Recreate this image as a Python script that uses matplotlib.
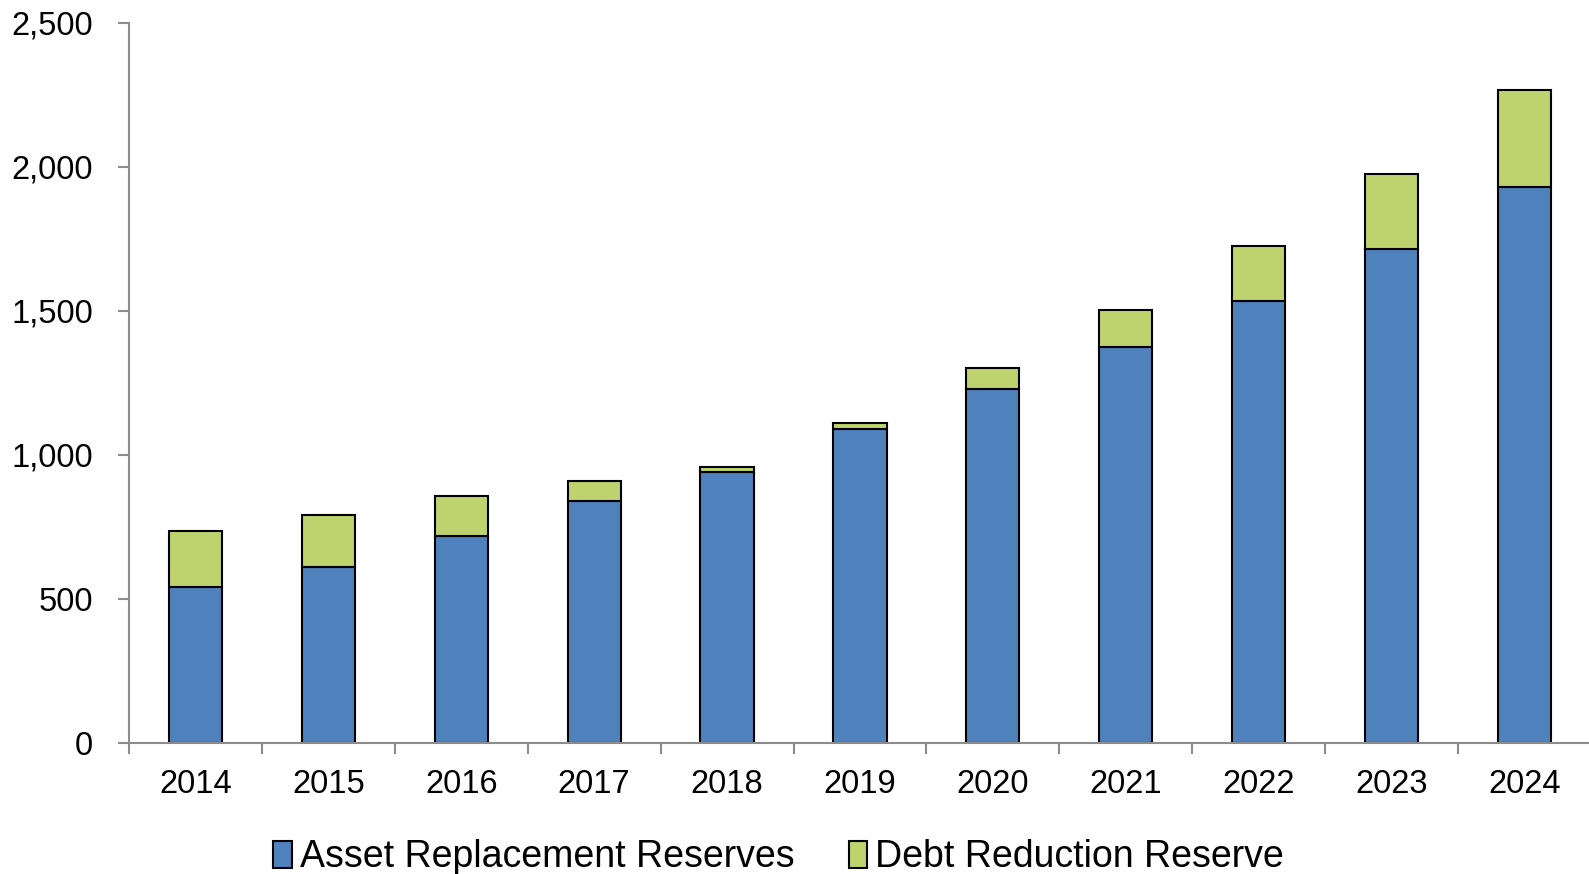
import matplotlib.pyplot as plt
import numpy as np

# ----------------------------------------------------------------
# Data
# ----------------------------------------------------------------
years = ["2014", "2015", "2016", "2017", "2018", "2019",
         "2020", "2021", "2022", "2023", "2024"]
asset_replacement = [541, 611, 719, 839, 940, 1088, 1229, 1376, 1534, 1716, 1931]
debt_reduction = [193, 179, 138, 70, 19, 22, 74, 127, 190, 260, 334]

BLUE = "#4F81BD"
GREEN = "#BED36D"
SPINE = "#8C8C8C"

plt.rcParams["font.family"] = ["Liberation Sans", "DejaVu Sans"]

# ----------------------------------------------------------------
# Plot
# ----------------------------------------------------------------
fig = plt.figure(figsize=(15.89, 8.74), dpi=100)
ax = fig.add_axes([0.0812, 0.150, 0.92, 0.824])

x = np.arange(len(years))
ax.bar(x, asset_replacement, width=0.4, color=BLUE, edgecolor="black",
       linewidth=1.5, label="Asset Replacement Reserves")
ax.bar(x, debt_reduction, width=0.4, bottom=asset_replacement, color=GREEN,
       edgecolor="black", linewidth=1.5, label="Debt Reduction Reserve")

ax.set_xlim(-0.5, len(years) - 0.5)
ax.set_ylim(0, 2500)
ax.set_yticks(range(0, 2501, 500))
ax.set_yticklabels([f"{v:,}" for v in range(0, 2501, 500)], fontsize=23.5)

# category labels at centres, tick marks at the boundaries
ax.set_xticks(np.arange(len(years) + 1) - 0.5)
ax.set_xticklabels([])
ax.set_xticks(x, minor=True)
ax.set_xticklabels(years, minor=True, fontsize=23.5)
ax.tick_params(axis="x", which="minor", length=0, pad=19)
ax.tick_params(axis="x", which="major", length=8, width=1.5, color=SPINE)
ax.tick_params(axis="y", length=8, width=1.5, color=SPINE, pad=18)

for side in ["top", "right"]:
    ax.spines[side].set_visible(False)
for side in ["left", "bottom"]:
    ax.spines[side].set_color(SPINE)
    ax.spines[side].set_linewidth(1.5)

fig.legend(loc="center", bbox_to_anchor=(0.49, 0.019), ncol=2, frameon=False,
           fontsize=27, handlelength=0.5, handleheight=0.75, handletextpad=0.2,
           columnspacing=1.45)

plt.savefig("out.png", dpi=100)
plt.close(fig)
